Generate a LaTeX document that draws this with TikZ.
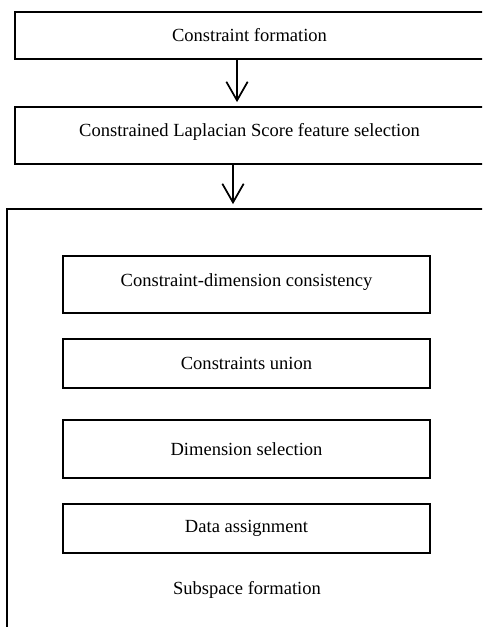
\documentclass[tikz,border=0pt]{standalone}
\usepackage{fontspec}
\setmainfont{Liberation Serif}
\usetikzlibrary{arrows.meta, calc}

\begin{document}
\begin{tikzpicture}[
    x=0.75pt, y=-0.75pt,
    font=\fontsize{13.9}{16}\selectfont,
    stagebox/.style={
        rectangle, draw, line width=1.3pt,
        minimum width=469*0.75pt, align=center, inner sep=0pt
    },
    stepbox/.style={
        rectangle, draw, line width=1.3pt,
        minimum width=367*0.75pt, align=center, inner sep=0pt
    },
    flowarrow/.style={-{Straight Barb[length=14pt, width=16pt]}, line width=1.3pt, shorten >=3pt}
]
\useasboundingbox (0,0) rectangle (482,627);
\clip (0,0) rectangle (482,627);

\node[stagebox, minimum height=47*0.75pt] (cform) at (249.5,35.5) {Constraint formation};
\node[stagebox, minimum height=57*0.75pt, text depth=8pt] (clsfs) at (249.5,135.5) {Constrained Laplacian Score feature selection};
\node[rectangle, draw, line width=1.3pt, minimum width=483*0.75pt, minimum height=431*0.75pt] (subsp) at (248.5,424.5) {};

\node[stepbox, minimum height=57*0.75pt, text depth=7pt] (cdcons) at (246.5,284.5) {Constraint-dimension consistency};
\node[stepbox, minimum height=49*0.75pt] (cunion) at (246.5,363.5) {Constraints union};
\node[stepbox, minimum height=58*0.75pt] (dimsel) at (246.5,449) {Dimension selection};
\node[stepbox, minimum height=49*0.75pt] (dassign) at (246.5,528.5) {Data assignment};
\node (subsplabel) at (247,590) {Subspace formation};

\coordinate (a1) at ($(cform.south)+(-12.5,0)$);
\coordinate (a2) at ($(clsfs.south)+(-16.5,0)$);
\draw[flowarrow] (a1) -- (a1 |- clsfs.north);
\draw[flowarrow] (a2) -- (a2 |- subsp.north);
\end{tikzpicture}
\end{document}
